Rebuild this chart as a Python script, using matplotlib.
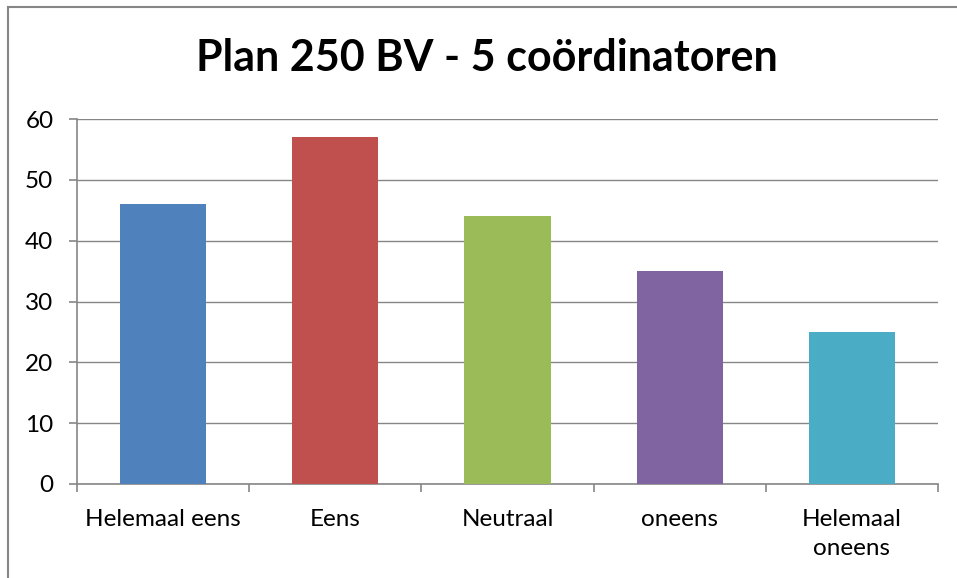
import numpy as np
import matplotlib
matplotlib.use("Agg")
import matplotlib.pyplot as plt
from matplotlib.lines import Line2D

plt.rcParams["font.family"] = ["Lato", "DejaVu Sans"]

categories = ["Helemaal eens", "Eens", "Neutraal", "oneens", "Helemaal\noneens"]
values = [46, 57, 44, 35, 25]
colors = ["#4F81BD", "#C0504D", "#9BBB59", "#8064A2", "#4BACC6"]
title = "Plan 250 BV - 5 coördinatoren"

W, H = 957, 578
fig = plt.figure(figsize=(W / 100, H / 100), dpi=100)
ax = fig.add_axes([77 / W, 1 - 484 / H, (938 - 77) / W, (484 - 119) / H])

x = np.arange(len(categories))
ax.bar(x, values, width=0.5, color=colors, zorder=3)

ax.set_xlim(-0.5, len(categories) - 0.5)
ax.set_ylim(0, 60)
ax.set_yticks(range(0, 61, 10))
ax.yaxis.grid(True, color="#868686", linewidth=1.0, zorder=0)

grey = "#868686"
for s in ["top", "right"]:
    ax.spines[s].set_visible(False)
for s in ["left", "bottom"]:
    ax.spines[s].set_color(grey)
    ax.spines[s].set_linewidth(1.2)

# category ticks sit on the boundaries, labels centred
ax.set_xticks(np.arange(-0.5, len(categories)), minor=False)
ax.set_xticklabels([])
ax.set_xticks(x, minor=True)
ax.set_xticklabels(categories, minor=True, fontsize=17.5, linespacing=1.45)
ax.tick_params(axis="x", which="major", length=6, color=grey, width=1.2)
ax.tick_params(axis="x", which="minor", length=0, pad=18)
ax.tick_params(axis="y", length=6, color=grey, width=1.2, labelsize=17.5, pad=11)

fig.text(487 / W, 1 - 58 / H, title, ha="center", va="center",
         fontsize=31, fontweight="bold")

# chart frame (only left and top edges visible in the crop)
fig.add_artist(Line2D([8 / W, 8 / W], [0, 1 - 7 / H], color=grey, linewidth=1.5,
                      transform=fig.transFigure))
fig.add_artist(Line2D([8 / W, 1], [1 - 7 / H, 1 - 7 / H], color=grey, linewidth=1.5,
                      transform=fig.transFigure))

fig.savefig("out.png", dpi=100, facecolor="white")
